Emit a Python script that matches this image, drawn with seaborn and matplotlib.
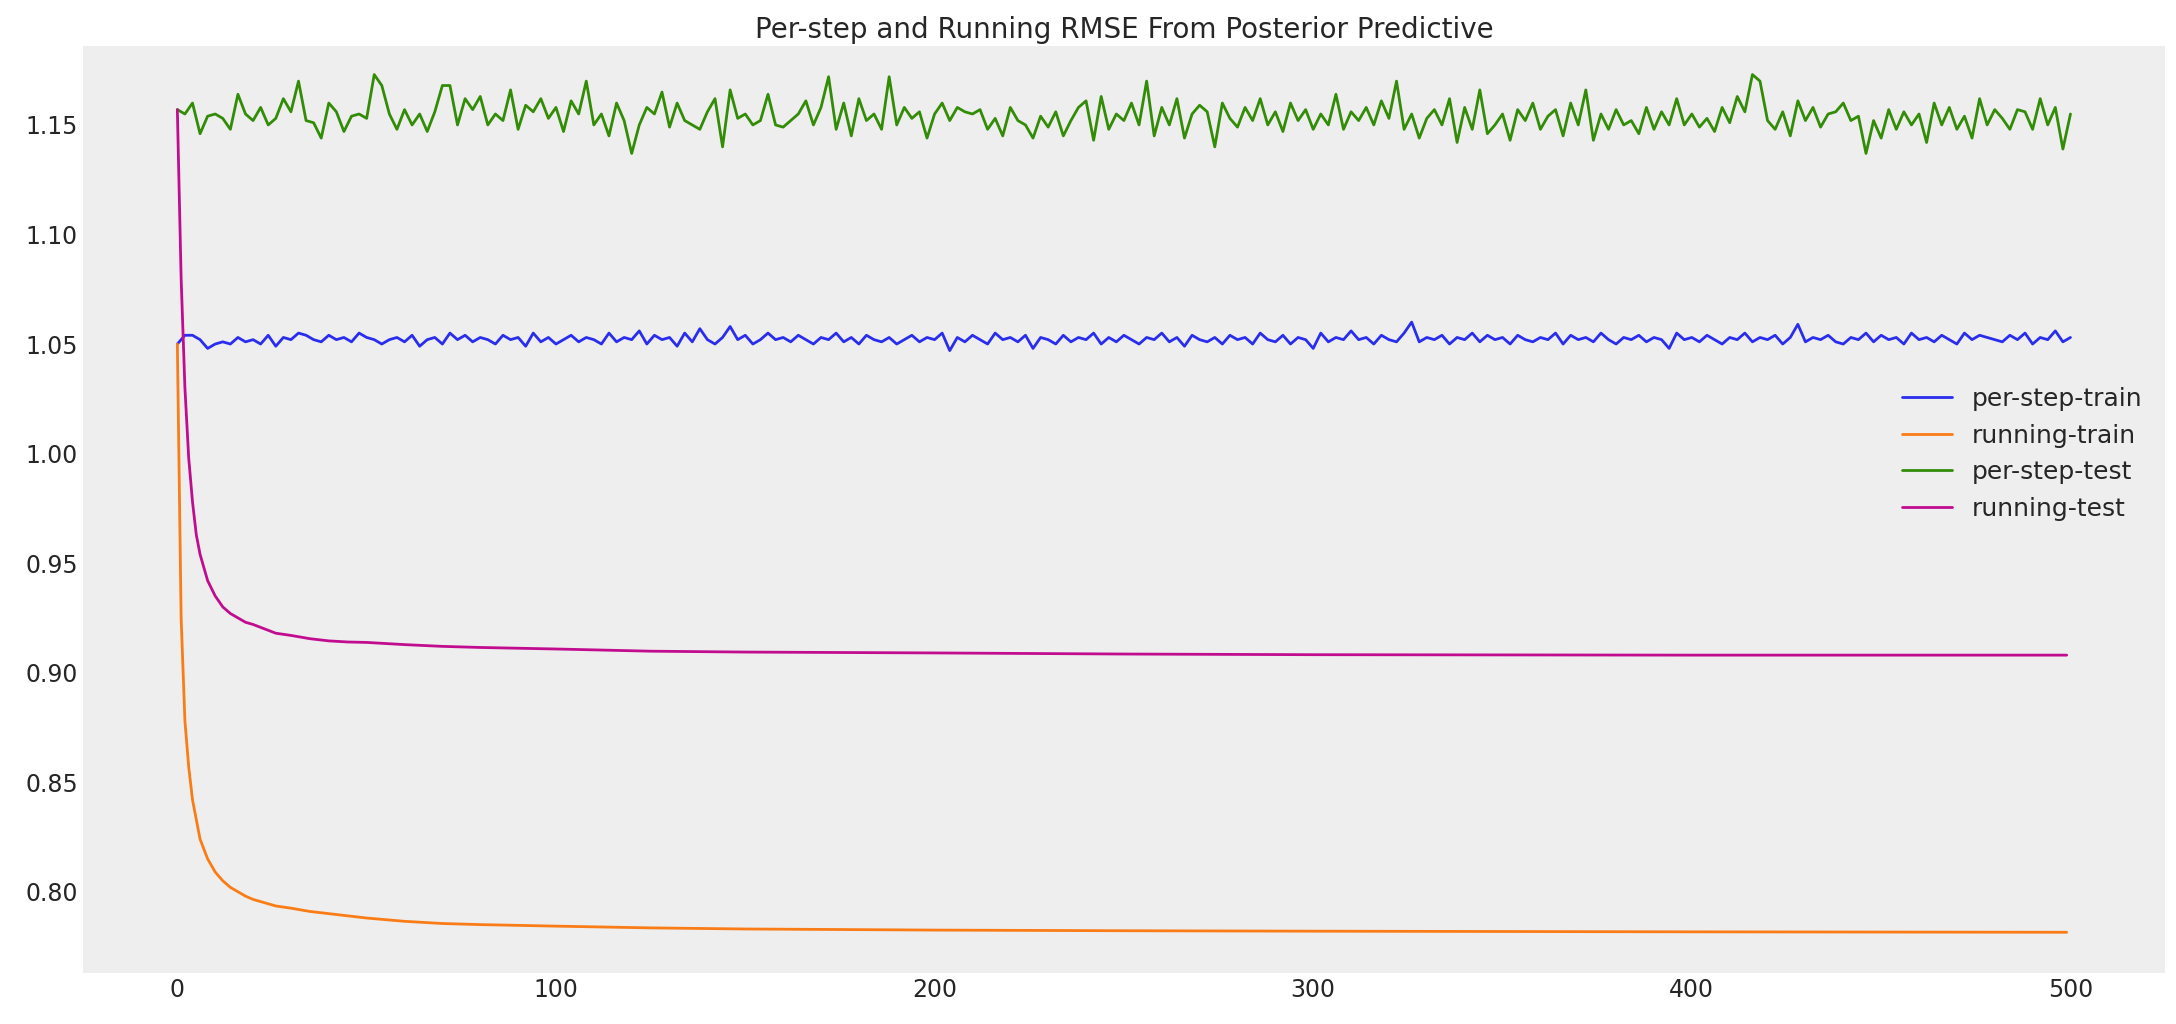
import matplotlib
matplotlib.use("Agg")
import matplotlib.pyplot as plt
import seaborn as sns
import numpy as np

# per-step values read every 2 steps (x = 0, 2, ..., 500), thousandths above 1.100 / 1.000
step_x = np.arange(0, 501, 2)
test_step_milli = [
    57, 55, 60, 46, 54, 55, 53, 48, 64, 55, 52, 58, 50, 53, 62, 56, 70, 52, 51, 44,
    60, 56, 47, 54, 55, 53, 73, 68, 55, 48, 57, 50, 55, 47, 56, 68, 68, 50, 62, 57,
    63, 50, 55, 52, 66, 48, 59, 56, 62, 53, 58, 47, 61, 55, 70, 50, 55, 45, 60, 52,
    37, 50, 58, 55, 65, 49, 60, 52, 50, 48, 56, 62, 40, 66, 53, 55, 50, 52, 64, 50,
    49, 52, 55, 61, 50, 58, 72, 48, 60, 45, 62, 52, 55, 48, 72, 50, 58, 53, 56, 44,
    55, 60, 52, 58, 56, 55, 57, 48, 53, 45, 58, 52, 50, 44, 54, 49, 56, 45, 52, 58,
    61, 43, 63, 48, 55, 52, 60, 50, 70, 45, 58, 50, 62, 44, 55, 59, 56, 40, 60, 53,
    49, 58, 52, 62, 50, 56, 47, 60, 52, 57, 48, 55, 50, 64, 48, 56, 52, 58, 50, 61,
    53, 70, 48, 55, 44, 53, 57, 50, 62, 42, 58, 48, 66, 46, 50, 55, 43, 57, 52, 60,
    48, 54, 57, 45, 60, 50, 66, 43, 55, 48, 57, 50, 52, 46, 58, 48, 56, 50, 62, 50,
    55, 49, 53, 47, 58, 51, 63, 56, 73, 70, 52, 48, 56, 45, 61, 52, 58, 49, 55, 56,
    60, 52, 54, 37, 52, 44, 57, 48, 56, 50, 55, 42, 60, 50, 58, 48, 54, 44, 62, 50,
    57, 53, 48, 57, 56, 48, 62, 50, 58, 39, 55, 52, 48, 73, 42, 54,
    55, 50, 46, 54,
]
train_step_milli = [
    50, 54, 54, 52, 48, 50, 51, 50, 53, 51, 52, 50, 54, 49, 53, 52, 55, 54, 52, 51,
    54, 52, 53, 51, 55, 53, 52, 50, 52, 53, 51, 54, 49, 52, 53, 50, 55, 52, 54, 51,
    53, 52, 50, 54, 52, 53, 49, 55, 51, 53, 50, 52, 54, 51, 53, 52, 50, 55, 51, 53,
    52, 56, 50, 54, 52, 53, 49, 55, 51, 57, 52, 50, 53, 58, 52, 54, 50, 52, 55, 52,
    53, 51, 54, 52, 50, 53, 52, 55, 51, 53, 50, 54, 52, 51, 53, 50, 52, 54, 51, 53,
    52, 55, 47, 53, 51, 54, 52, 50, 55, 52, 53, 51, 54, 48, 53, 52, 50, 54, 51, 53,
    52, 55, 50, 53, 51, 54, 52, 50, 53, 52, 55, 51, 53, 49, 54, 52, 51, 53, 50, 54,
    52, 53, 50, 55, 52, 51, 54, 50, 53, 52, 48, 55, 51, 53, 52, 56, 52, 53, 50, 54,
    52, 51, 55, 60, 51, 53, 52, 54, 50, 53, 52, 55, 51, 54, 52, 53, 50, 54, 52, 51,
    53, 52, 55, 50, 54, 52, 53, 51, 55, 52, 50, 53, 52, 54, 51, 53, 52, 48, 55, 52,
    53, 51, 54, 52, 50, 53, 52, 55, 51, 53, 52, 54, 50, 53, 59, 51, 53, 52, 54, 51,
    50, 53, 52, 55, 51, 54, 52, 53, 50, 55, 52, 53, 51, 54, 52, 50, 55, 52, 54, 53,
    52, 51, 54, 52, 55, 50, 53, 52, 56, 51, 53,
]
per_step_test = 1.1 + np.array(test_step_milli[:len(step_x)]) / 1000
per_step_train = 1.0 + np.array(train_step_milli[:len(step_x)]) / 1000

run_x = [0, 1, 2, 3, 4, 5, 6, 8, 10, 12, 14, 16, 18, 20, 23, 26, 30, 35, 40, 45, 50,
         60, 70, 80, 100, 125, 150, 200, 250, 300, 400, 499]
running_train = [1.05, 0.925, 0.878, 0.857, 0.842, 0.833, 0.824, 0.815, 0.809, 0.805, 0.802,
                 0.800, 0.798, 0.7965, 0.795, 0.7935, 0.7925, 0.791, 0.790, 0.789, 0.788,
                 0.7865, 0.7855, 0.785, 0.7843, 0.7835, 0.783, 0.7825, 0.7822, 0.782, 0.7817, 0.7815]
running_test = [1.157, 1.08, 1.03, 0.998, 0.978, 0.963, 0.954, 0.942, 0.935, 0.930, 0.927,
                0.925, 0.923, 0.922, 0.920, 0.918, 0.917, 0.9155, 0.9145, 0.914, 0.9138,
                0.9128, 0.912, 0.9115, 0.9108, 0.9098, 0.9094, 0.909, 0.9085, 0.9082, 0.908, 0.908]

sns.set_style("dark", {"axes.facecolor": "#eeeeee", "axes.grid": False})
fig, ax = plt.subplots(figsize=(21.76, 10.24), dpi=100)
fig.subplots_adjust(left=0.038, right=0.995, top=0.955, bottom=0.05)

sns.lineplot(x=step_x, y=per_step_train, ax=ax, color="#2a2eec", lw=2, label="per-step-train")
sns.lineplot(x=run_x, y=running_train, ax=ax, color="#fa7c17", lw=2, label="running-train")
sns.lineplot(x=step_x, y=per_step_test, ax=ax, color="#328c06", lw=2, label="per-step-test")
sns.lineplot(x=run_x, y=running_test, ax=ax, color="#c10c90", lw=2, label="running-test")

for s in ax.spines.values():
    s.set_visible(False)
ax.set_xlim(-25, 525)
ax.set_ylim(0.763, 1.186)
ax.set_yticks(np.arange(0.80, 1.151, 0.05))
ax.tick_params(labelsize=17, length=0)
ax.set_title("Per-step and Running RMSE From Posterior Predictive", fontsize=20)
ax.legend(loc="center right", frameon=False, fontsize=18, bbox_to_anchor=(1.0, 0.56))
fig.savefig("out.png", dpi=100)
